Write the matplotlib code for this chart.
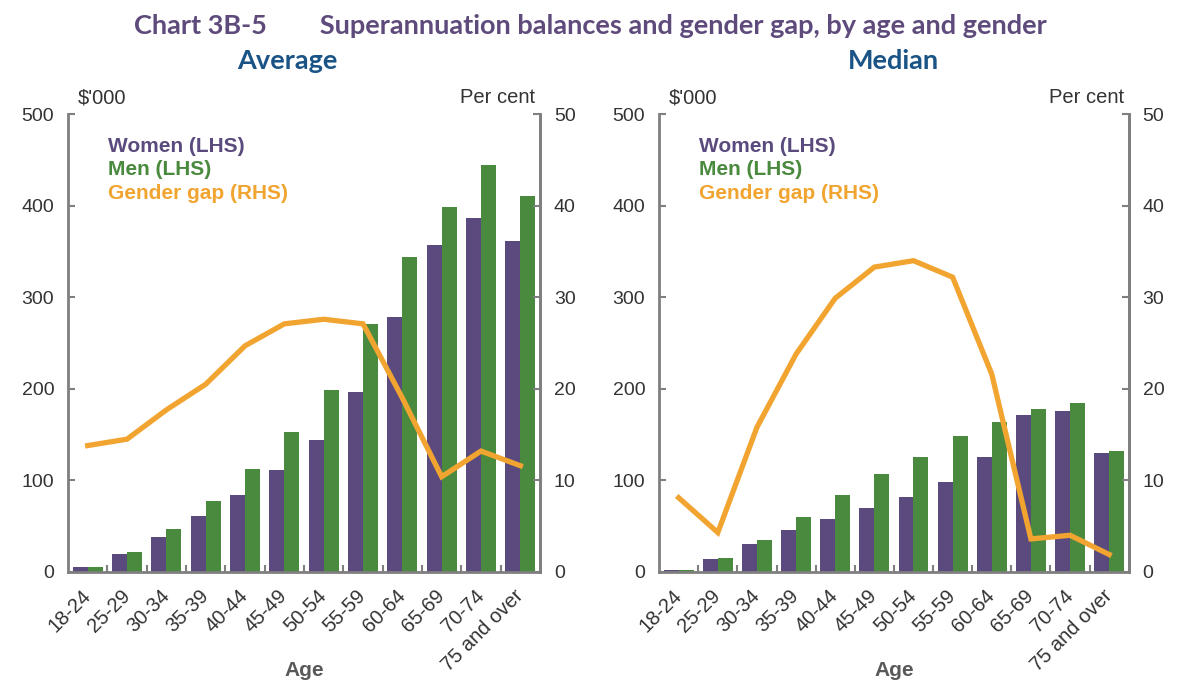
import matplotlib
matplotlib.use("Agg")
import matplotlib.pyplot as plt
import numpy as np

ages = ["18-24", "25-29", "30-34", "35-39", "40-44", "45-49", "50-54",
        "55-59", "60-64", "65-69", "70-74", "75 and over"]

avg_women = [5, 19, 38, 61, 84, 111, 144, 196, 278, 357, 387, 362]
avg_men = [5, 22, 47, 77, 112, 153, 199, 271, 344, 399, 445, 411]
avg_gap = [13.8, 14.5, 17.7, 20.5, 24.7, 27.1, 27.6, 27.1, 19.0, 10.4, 13.2, 11.6]

med_women = [2, 14, 30, 46, 58, 70, 82, 98, 126, 171, 176, 130]
med_men = [2, 15, 35, 60, 84, 107, 125, 148, 164, 178, 185, 132]
med_gap = [8.1, 4.3, 15.8, 23.8, 29.9, 33.3, 34.0, 32.2, 21.6, 3.6, 4.0, 1.9]

C_W = "#5B4A7D"
C_M = "#4A8A3F"
C_G = "#F2A430"
C_TXT = "#333333"
C_SP = "#7F7F7F"

plt.rcParams["font.family"] = ["Liberation Sans", "DejaVu Sans"]

fig = plt.figure(figsize=(11.77, 6.8), dpi=100)

def panel(rect, women, men, gap):
    ax = fig.add_axes(rect)
    x = np.arange(len(ages))
    w = 0.38
    ax.bar(x - w / 2, women, w, color=C_W, zorder=2)
    ax.bar(x + w / 2, men, w, color=C_M, zorder=2)
    ax.set_xlim(-0.5, len(ages) - 0.5)
    ax.set_ylim(0, 500)
    ax.set_yticks([0, 100, 200, 300, 400, 500])
    ax.set_xticks(x)
    ax.set_xticklabels(ages, rotation=45, ha="right", va="center",
                       rotation_mode="anchor", fontsize=14.5, color=C_TXT)
    ax.set_xticks(np.arange(0.5, len(ages) - 0.5, 1), minor=True)
    ax.tick_params(axis="x", which="major", length=0, pad=15)
    ax.tick_params(axis="x", which="minor", length=5, width=1.5, direction="in", color=C_SP)
    ax.tick_params(axis="y", length=5, width=1.5, direction="in", color=C_SP,
                   labelsize=14, labelcolor=C_TXT, pad=10)
    for s in ["left", "right", "bottom"]:
        ax.spines[s].set_color(C_SP)
        ax.spines[s].set_linewidth(2)
    ax.spines["top"].set_visible(False)
    ax2 = ax.twinx()
    ax2.plot(x, gap, color=C_G, lw=3.8, solid_joinstyle="miter", zorder=3)
    ax2.set_ylim(0, 50)
    ax2.set_yticks([0, 10, 20, 30, 40, 50])
    ax2.tick_params(axis="y", length=5, width=1.5, direction="in", color=C_SP,
                    labelsize=14, labelcolor=C_TXT, pad=10)
    for s in ["top", "left", "bottom"]:
        ax2.spines[s].set_visible(False)
    ax2.spines["right"].set_color(C_SP)
    ax2.spines["right"].set_linewidth(2)
    ax.text(0.02, 1.015, "$'000", transform=ax.transAxes, fontsize=14.5,
            color=C_TXT, ha="left", va="bottom")
    ax.text(0.99, 1.015, "Per cent", transform=ax.transAxes, fontsize=14.5,
            color=C_TXT, ha="right", va="bottom")
    ax.text(0.085, 0.93, "Women (LHS)", transform=ax.transAxes, fontsize=15,
            fontweight="bold", color=C_W, ha="left", va="center")
    ax.text(0.085, 0.879, "Men (LHS)", transform=ax.transAxes, fontsize=15,
            fontweight="bold", color=C_M, ha="left", va="center")
    ax.text(0.085, 0.826, "Gender gap (RHS)", transform=ax.transAxes, fontsize=15,
            fontweight="bold", color=C_G, ha="left", va="center")
    ax.text(0.5, -0.215, "Age", transform=ax.transAxes, fontsize=15,
            fontweight="bold", color="#595959", ha="center", va="center")
    return ax

panel([0.0578, 0.159, 0.401, 0.673], avg_women, avg_men, avg_gap)
panel([0.560, 0.159, 0.399, 0.673], med_women, med_men, med_gap)

fig.text(0.502, 0.962, "Chart 3B-5        Superannuation balances and gender gap, by age and gender",
         fontsize=19.5, fontweight="bold", color="#5E4B7C", ha="center", va="center",
         family=["Lato", "DejaVu Sans"])
fig.text(0.244, 0.911, "Average", fontsize=19.5, fontweight="bold", color="#1A5385",
         ha="center", va="center", family=["Lato", "DejaVu Sans"])
fig.text(0.759, 0.911, "Median", fontsize=19.5, fontweight="bold", color="#1A5385",
         ha="center", va="center", family=["Lato", "DejaVu Sans"])

fig.savefig("out.png", dpi=100)
